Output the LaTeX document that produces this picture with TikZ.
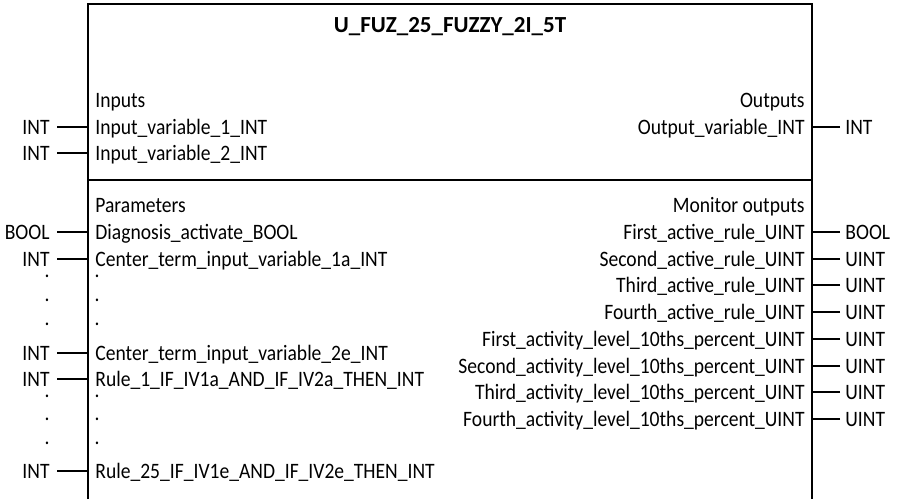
\documentclass[tikz,border=0pt]{standalone}
\usepackage{fontspec}
\setmainfont{Carlito}[FakeStretch=0.89]
\newfontfamily\titlefont{Carlito}
\begin{document}
\begin{tikzpicture}[x=0.5pt,y=-0.5pt,
    box/.style={line width=1pt},
    wire/.style={line width=0.65pt},
    txt/.style={inner ysep=0pt,inner xsep=0pt,text height=7pt,text depth=0pt,font=\fontsize{11}{13}\selectfont},
    inl/.style={txt,anchor=west},
    outl/.style={txt,anchor=east},
    tyl/.style={txt,anchor=east,inner xsep=3.5pt},
    tyr/.style={txt,anchor=west,inner xsep=2.5pt},
    dotl/.style={inner sep=0pt,anchor=base,font=\fontsize{11}{13}\selectfont}]
    \useasboundingbox (0,0) rectangle (904,499);
    % block frame
    \draw[box] (88,499) -- (88,4) -- (812,4) -- (812,499);
    \draw[box] (88,180) -- (812,180);
    \coordinate (lft) at (88,0);
    \coordinate (rgt) at (812,0);
    \node[txt,font=\titlefont\bfseries\fontsize{11.5}{13}\selectfont] (name) at (450,25) {U\_FUZ\_25\_FUZZY\_2I\_5T};

    % inputs
    \node[inl] (inhead) at (95,100) {Inputs};
    \node[inl] (in1) at (95,127) {Input\_variable\_1\_INT};
    \node[inl] (in2) at (95,153) {Input\_variable\_2\_INT};
    \node[tyl] (tin1) at (57,127) {INT};
    \node[tyl] (tin2) at (57,153) {INT};
    \draw[wire] (tin1.east) -- (tin1.east -| lft);
    \draw[wire] (tin2.east) -- (tin2.east -| lft);

    % outputs
    \node[outl] (outhead) at (805,100) {Outputs};
    \node[outl] (out1) at (805,127) {Output\_variable\_INT};
    \node[tyr] (tout1) at (840,127) {INT};
    \draw[wire] (tout1.west) -- (tout1.west -| rgt);

    % parameters
    \node[inl] (parhead) at (95,205) {Parameters};
    \node[inl] (par1) at (95,232) {Diagnosis\_activate\_BOOL};
    \node[inl] (par2) at (95,259) {Center\_term\_input\_variable\_1a\_INT};
    \node[inl] (par3) at (95,353) {Center\_term\_input\_variable\_2e\_INT};
    \node[inl] (par4) at (95,379) {Rule\_1\_IF\_IV1a\_AND\_IF\_IV2a\_THEN\_INT};
    \node[inl] (par5) at (95,471) {Rule\_25\_IF\_IV1e\_AND\_IF\_IV2e\_THEN\_INT};
    \node[tyl] (tpar1) at (57,232) {BOOL};
    \node[tyl] (tpar2) at (57,259) {INT};
    \node[tyl] (tpar3) at (57,353) {INT};
    \node[tyl] (tpar4) at (57,379) {INT};
    \node[tyl] (tpar5) at (57,471) {INT};
    \draw[wire] (tpar1.east) -- (tpar1.east -| lft);
    \draw[wire] (tpar2.east) -- (tpar2.east -| lft);
    \draw[wire] (tpar3.east) -- (tpar3.east -| lft);
    \draw[wire] (tpar4.east) -- (tpar4.east -| lft);
    \draw[wire] (tpar5.east) -- (tpar5.east -| lft);

    % omitted parameters
    \node[dotl] (da1) at (97,277) {.};
    \node[dotl] (da2) at (97,301) {.};
    \node[dotl] (da3) at (97,325) {.};
    \node[dotl] (db1) at (97,397) {.};
    \node[dotl] (db2) at (97,420) {.};
    \node[dotl] (db3) at (97,444) {.};
    \node[dotl] (ta1) at (47,277) {.};
    \node[dotl] (ta2) at (47,301) {.};
    \node[dotl] (ta3) at (47,325) {.};
    \node[dotl] (tb1) at (47,397) {.};
    \node[dotl] (tb2) at (47,420) {.};
    \node[dotl] (tb3) at (47,444) {.};

    % monitor outputs
    \node[outl] (monhead) at (805,205) {Monitor outputs};
    \node[outl] (mon1) at (805,232) {First\_active\_rule\_UINT};
    \node[outl] (mon2) at (805,259) {Second\_active\_rule\_UINT};
    \node[outl] (mon3) at (805,285) {Third\_active\_rule\_UINT};
    \node[outl] (mon4) at (805,312) {Fourth\_active\_rule\_UINT};
    \node[outl] (mon5) at (805,339) {First\_activity\_level\_10ths\_percent\_UINT};
    \node[outl] (mon6) at (805,366) {Second\_activity\_level\_10ths\_percent\_UINT};
    \node[outl] (mon7) at (805,392) {Third\_activity\_level\_10ths\_percent\_UINT};
    \node[outl] (mon8) at (805,419) {Fourth\_activity\_level\_10ths\_percent\_UINT};
    \node[tyr] (tmon1) at (840,232) {BOOL};
    \node[tyr] (tmon2) at (840,259) {UINT};
    \node[tyr] (tmon3) at (840,285) {UINT};
    \node[tyr] (tmon4) at (840,312) {UINT};
    \node[tyr] (tmon5) at (840,339) {UINT};
    \node[tyr] (tmon6) at (840,366) {UINT};
    \node[tyr] (tmon7) at (840,392) {UINT};
    \node[tyr] (tmon8) at (840,419) {UINT};
    \draw[wire] (tmon1.west) -- (tmon1.west -| rgt);
    \draw[wire] (tmon2.west) -- (tmon2.west -| rgt);
    \draw[wire] (tmon3.west) -- (tmon3.west -| rgt);
    \draw[wire] (tmon4.west) -- (tmon4.west -| rgt);
    \draw[wire] (tmon5.west) -- (tmon5.west -| rgt);
    \draw[wire] (tmon6.west) -- (tmon6.west -| rgt);
    \draw[wire] (tmon7.west) -- (tmon7.west -| rgt);
    \draw[wire] (tmon8.west) -- (tmon8.west -| rgt);
\end{tikzpicture}
\end{document}
